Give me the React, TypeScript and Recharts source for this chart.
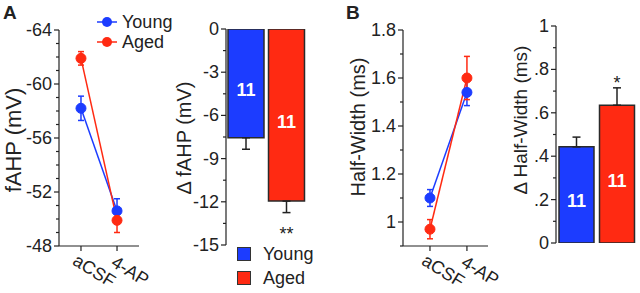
import React from "react";
import { LineChart, Line, BarChart, Bar, Cell, XAxis, YAxis, ErrorBar, Legend, LabelList } from "recharts";

const BLUE = "#1c3cff";
const RED = "#ff2a12";
const INK = "#222";
const FONT = "'Liberation Sans', Arial, sans-serif";

const CONDITIONS = ["aCSF", "4-AP"];
const GROUPS = ["Young", "Aged"];
const GROUP_COLORS = [BLUE, RED];

// A: fAHP (mV)
const FAHP_YOUNG = [-58.2, -50.6];
const FAHP_YOUNG_SEM = [0.9, 0.9];
const FAHP_AGED = [-61.9, -49.9];
const FAHP_AGED_SEM = [0.5, 0.9];
const FAHP_TICKS = [-64, -63, -62, -61, -60, -59, -58, -57, -56, -55, -54, -53, -52, -51, -50, -49, -48];
const FAHP_LABELS = [-64, -60, -56, -52, -48];

// A: delta fAHP (mV)
const DFAHP = [-7.55, -11.95];
const DFAHP_SEM = [0.8, 0.8];
const DFAHP_N = [11, 11];
const DFAHP_SIG = ["", "**"];
const DFAHP_TICKS = [0, -1.5, -3, -4.5, -6, -7.5, -9, -10.5, -12, -13.5, -15];
const DFAHP_LABELS = [0, -3, -6, -9, -12, -15];

// B: half-width (ms)
const HW_YOUNG = [1.1, 1.54];
const HW_YOUNG_SEM = [0.035, 0.055];
const HW_AGED = [0.97, 1.6];
const HW_AGED_SEM = [0.04, 0.09];
const HW_TICKS = [0.9, 1, 1.1, 1.2, 1.3, 1.4, 1.5, 1.6, 1.7, 1.8];
const HW_LABELS = [1, 1.2, 1.4, 1.6, 1.8];

// B: delta half-width (ms)
const DHW = [0.443, 0.635];
const DHW_SEM = [0.045, 0.08];
const DHW_N = [11, 11];
const DHW_SIG = ["", "*"];
const DHW_TICKS = [0, 0.1, 0.2, 0.3, 0.4, 0.5, 0.6, 0.7, 0.8, 0.9, 1];
const DHW_LABELS = [0, 0.2, 0.4, 0.6, 0.8, 1];

const fahpData = CONDITIONS.map((c, i) => ({
  x: i, young: FAHP_YOUNG[i], youngErr: FAHP_YOUNG_SEM[i], aged: FAHP_AGED[i], agedErr: FAHP_AGED_SEM[i],
}));
const hwData = CONDITIONS.map((c, i) => ({
  x: i, young: HW_YOUNG[i], youngErr: HW_YOUNG_SEM[i], aged: HW_AGED[i], agedErr: HW_AGED_SEM[i],
}));
// one-sided error bars, away from zero
const dfahpData = GROUPS.map((g, i) => ({ group: g, v: DFAHP[i], err: [DFAHP_SEM[i], 0], n: DFAHP_N[i], sig: DFAHP_SIG[i] }));
const dhwData = GROUPS.map((g, i) => ({ group: g, v: DHW[i], err: [0, DHW_SEM[i]], n: DHW_N[i], sig: DHW_SIG[i] }));

const near = (a: number, list: number[]) => list.some((b) => Math.abs(a - b) < 1e-6);

const makeYTick = (labels: number[], fmt: (v: number) => string) => (props: any) => {
  const { x, y, payload } = props;
  const ax = x + 8;
  const major = near(payload.value, labels);
  return (
    <g>
      <line x1={ax - (major ? 5 : 3)} x2={ax} y1={y} y2={y} stroke={INK} strokeWidth={1.2} />
      {major && (
        <text x={ax - 7} y={y} dy={6} textAnchor="end" fontSize={18} fill={INK} fontFamily={FONT}>
          {fmt(payload.value)}
        </text>
      )}
    </g>
  );
};

const XCatTick = (props: any) => {
  const { x, y, payload } = props;
  const ay = y - 8;
  const tx = x + 10;
  const ty = ay + 30;
  return (
    <g>
      <line x1={x} x2={x} y1={ay} y2={ay + 5} stroke={INK} strokeWidth={1.2} />
      <text transform={`translate(${tx},${ty}) rotate(32)`} textAnchor="middle" fontSize={18} fill={INK} fontFamily={FONT}>
        {CONDITIONS[payload.value]}
      </text>
    </g>
  );
};

const yTitle = (text: string, bx: number, cy: number, size: number) => () => (
  <text transform={`translate(${bx},${cy}) rotate(-90)`} textAnchor="middle" fontSize={size} fill={INK} fontFamily={FONT}>
    {text}
  </text>
);

const LineLegend = (props: any) => {
  const items = [...(props.payload || [])].sort((a: any, b: any) => GROUPS.indexOf(a.value) - GROUPS.indexOf(b.value));
  return (
    <div style={{ fontFamily: FONT, fontSize: 18, color: INK }}>
      {items.map((p: any) => (
        <div key={p.value} style={{ display: "flex", alignItems: "center", height: 20 }}>
          <svg width={20} height={12} style={{ marginRight: 5 }}>
            <line x1={0} y1={6} x2={20} y2={6} stroke={p.color} strokeWidth={1.5} />
            <circle cx={10} cy={6} r={5} fill={p.color} />
          </svg>
          <span>{p.value}</span>
        </div>
      ))}
    </div>
  );
};

const BarLegend = () => (
  <div style={{ fontFamily: FONT, fontSize: 18, color: INK }}>
    {GROUPS.map((g, i) => (
      <div key={g} style={{ display: "flex", alignItems: "center", height: 24 }}>
        <div style={{ width: 12, height: 12, background: GROUP_COLORS[i], border: "1px solid #333", marginRight: 12 }} />
        <span>{g}</span>
      </div>
    ))}
  </div>
);

const boxOf = (p: any) => {
  const vb = p.viewBox || p;
  const top = Math.min(vb.y, vb.y + vb.height);
  const bottom = Math.max(vb.y, vb.y + vb.height);
  return { x: vb.x, w: vb.width, top, bottom, h: bottom - top };
};

const CountLabel = (p: any) => {
  const b = boxOf(p);
  return (
    <text x={b.x + b.w / 2} y={(b.top + b.bottom) / 2 + 6} dy={6.5} textAnchor="middle" fontSize={18} fontWeight="bold" fill="#fff" fontFamily={FONT}>
      {p.value}
    </text>
  );
};

const makeSigLabel = (vals: number[], sems: number[], gap: number) => (p: any) => {
  if (!p.value) return null;
  const b = boxOf(p);
  const i = p.index;
  const errPx = (sems[i] / Math.abs(vals[i])) * b.h;
  const neg = vals[i] < 0;
  const y = neg ? b.bottom + errPx + gap : b.top - errPx - gap;
  return (
    <text x={b.x + b.w / 2} y={y} textAnchor="middle" fontSize={18} fill={INK} fontFamily={FONT}>
      {p.value}
    </text>
  );
};

const PanelLetter = ({ x, text }: { x: number; text: string }) => (
  <div style={{ position: "absolute", left: x, top: 2, fontFamily: FONT, fontWeight: "bold", fontSize: 19, color: INK }}>{text}</div>
);

function TimeCourse(props: {
  data: any[];
  left: number;
  width: number;
  margin: any;
  xDomain: [number, number];
  yDomain: [number, number];
  reversed?: boolean;
  ticks: number[];
  labels: number[];
  fmt: (v: number) => string;
  title: string;
  titleX: number;
  titleY: number;
  titleSize: number;
  legend?: boolean;
}) {
  return (
    <div style={{ position: "absolute", left: props.left, top: 0 }}>
      <LineChart width={props.width} height={293} data={props.data} margin={props.margin}>
        <XAxis
          dataKey="x"
          type="number"
          domain={props.xDomain}
          ticks={[0, 1]}
          allowDataOverflow
          height={40}
          tickLine={false}
          axisLine={{ stroke: INK, strokeWidth: 1.2 }}
          tick={<XCatTick />}
          interval={0}
        />
        <YAxis
          type="number"
          domain={props.yDomain}
          reversed={props.reversed}
          ticks={props.ticks}
          interval={0}
          allowDataOverflow
          width={50}
          tickLine={false}
          tickSize={6}
          tickMargin={2}
          axisLine={{ stroke: INK, strokeWidth: 1.2 }}
          tick={makeYTick(props.labels, props.fmt)}
          label={yTitle(props.title, props.titleX, props.titleY, props.titleSize)}
        />
        {props.legend && (
          <Legend layout="vertical" align="center" verticalAlign="middle" content={<LineLegend />} wrapperStyle={{ top: 12, left: 97, width: "auto" }} />
        )}
        <Line dataKey="young" name="Young" stroke={BLUE} strokeWidth={1.5} dot={{ r: 5, fill: BLUE, stroke: BLUE, strokeWidth: 1 }} activeDot={false} isAnimationActive={false}>
          <ErrorBar dataKey="youngErr" width={3} stroke={BLUE} strokeWidth={1.5} direction="y" isAnimationActive={false} />
        </Line>
        <Line dataKey="aged" name="Aged" stroke={RED} strokeWidth={1.5} dot={{ r: 5, fill: RED, stroke: RED, strokeWidth: 1 }} activeDot={false} isAnimationActive={false}>
          <ErrorBar dataKey="agedErr" width={3} stroke={RED} strokeWidth={1.5} direction="y" isAnimationActive={false} />
        </Line>
      </LineChart>
    </div>
  );
}

function DeltaBars(props: {
  data: any[];
  vals: number[];
  sems: number[];
  left: number;
  margin: any;
  yDomain: [number, number];
  ticks: number[];
  labels: number[];
  fmt: (v: number) => string;
  title: string;
  titleX: number;
  titleY: number;
  titleSize: number;
  barSize: number;
  sigGap: number;
  legend?: boolean;
}) {
  return (
    <div style={{ position: "absolute", left: props.left, top: 0 }}>
      <BarChart width={160} height={293} data={props.data} margin={props.margin}>
        <XAxis dataKey="group" hide />
        <YAxis
          type="number"
          domain={props.yDomain}
          ticks={props.ticks}
          interval={0}
          allowDataOverflow
          width={50}
          tickLine={false}
          tickSize={6}
          tickMargin={2}
          axisLine={{ stroke: INK, strokeWidth: 1.2 }}
          tick={makeYTick(props.labels, props.fmt)}
          label={yTitle(props.title, props.titleX, props.titleY, props.titleSize)}
        />
        {props.legend && (
          <Legend layout="vertical" align="center" verticalAlign="middle" content={<BarLegend />} wrapperStyle={{ top: 242, left: 77, width: "auto" }} />
        )}
        <Bar dataKey="v" barSize={props.barSize} stroke="#2a2a2a" strokeWidth={1.5} isAnimationActive={false}>
          {props.data.map((d, i) => (
            <Cell key={d.group} fill={GROUP_COLORS[i]} />
          ))}
          <ErrorBar dataKey="err" width={4} stroke={INK} strokeWidth={1.5} direction="y" isAnimationActive={false} />
          <LabelList dataKey="n" content={CountLabel} />
          <LabelList dataKey="sig" content={makeSigLabel(props.vals, props.sems, props.sigGap)} />
        </Bar>
      </BarChart>
    </div>
  );
}

const fmtInt = (v: number) => String(v);
const fmtDec = (v: number) => (v === 1 ? "1" : v.toFixed(1));
const fmtFrac = (v: number) => (v === 0 ? "0" : v === 1 ? "1" : v.toFixed(1).replace(/^0/, ""));

export default function App() {
  return (
    <div style={{ position: "absolute", left: 0, top: 0, width: 640, height: 293, background: "#fff", overflow: "hidden" }}>
      <TimeCourse
        data={fahpData}
        left={0}
        width={200}
        margin={{ top: 30, right: 61, bottom: 7, left: 9 }}
        xDomain={[-0.61, 1.61]}
        yDomain={[-64, -48]}
        reversed
        ticks={FAHP_TICKS}
        labels={FAHP_LABELS}
        fmt={fmtInt}
        title="fAHP (mV)"
        titleX={21}
        titleY={140}
        titleSize={22}
        legend
      />
      <DeltaBars
        data={dfahpData}
        vals={DFAHP}
        sems={DFAHP_SEM}
        left={160}
        margin={{ top: 29, right: 13, bottom: 48, left: 16 }}
        yDomain={[-15, 0]}
        ticks={DFAHP_TICKS}
        labels={DFAHP_LABELS}
        fmt={fmtInt}
        title="Δ fAHP (mV)"
        titleX={31}
        titleY={138}
        titleSize={20}
        barSize={36}
        sigGap={27}
        legend
      />
      <TimeCourse
        data={hwData}
        left={320}
        width={200}
        margin={{ top: 30, right: 32, bottom: 7, left: 33 }}
        xDomain={[-0.73, 1.57]}
        yDomain={[0.9, 1.8]}
        ticks={HW_TICKS}
        labels={HW_LABELS}
        fmt={fmtDec}
        title="Half-Width (ms)"
        titleX={45}
        titleY={127}
        titleSize={20}
      />
      <DeltaBars
        data={dhwData}
        vals={DHW}
        sems={DHW_SEM}
        left={480}
        margin={{ top: 26, right: 3, bottom: 50, left: 26 }}
        yDomain={[0, 1]}
        ticks={DHW_TICKS}
        labels={DHW_LABELS}
        fmt={fmtFrac}
        title="Δ Half-Width (ms)"
        titleX={47}
        titleY={120}
        titleSize={19}
        barSize={35}
        sigGap={-1}
      />
      <PanelLetter x={3} text="A" />
      <PanelLetter x={346} text="B" />
    </div>
  );
}
